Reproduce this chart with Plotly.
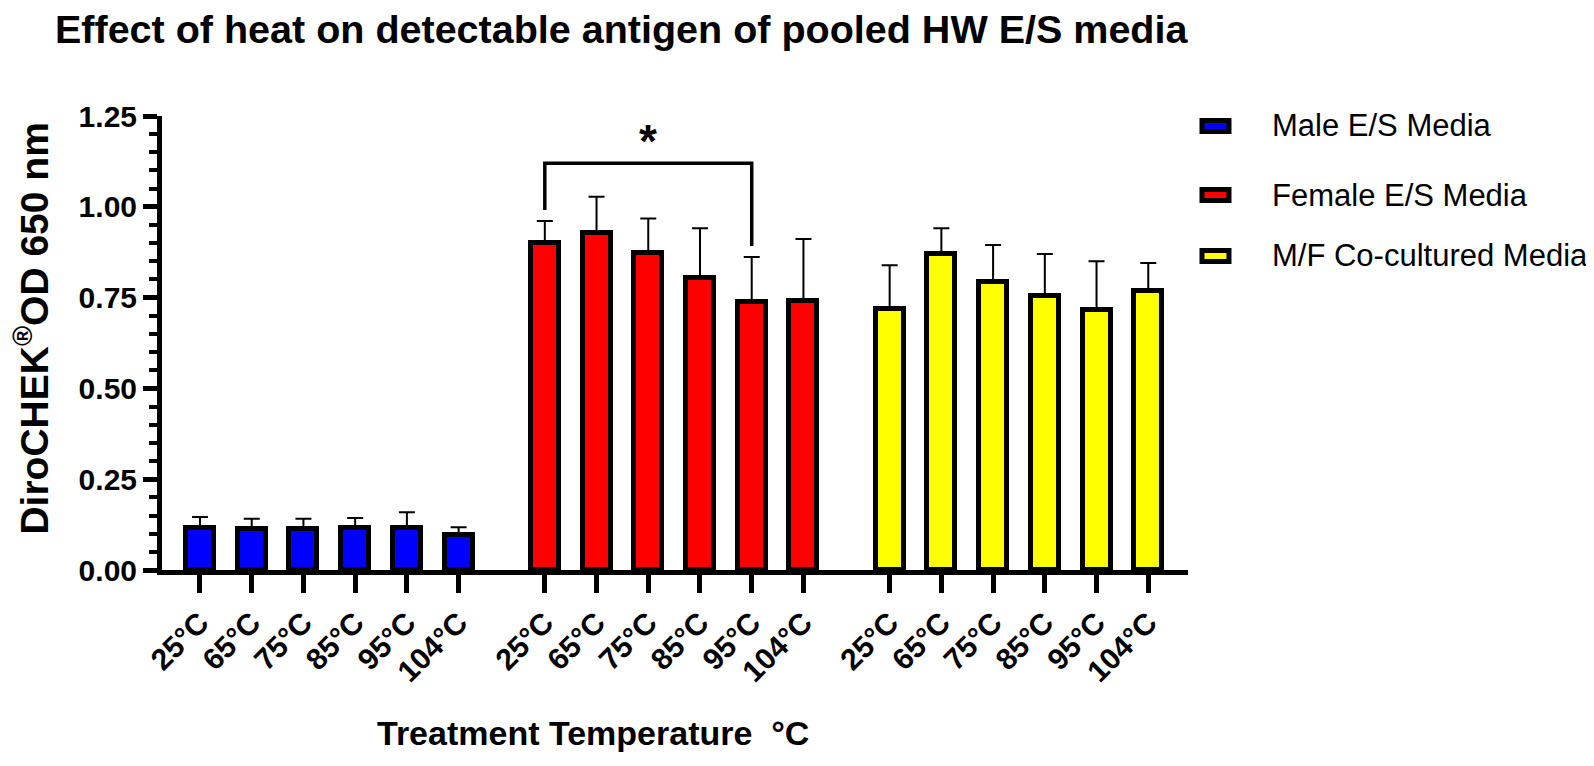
import plotly.graph_objects as go

# ---------------- data ----------------
temps = ["25°C", "65°C", "75°C", "85°C", "95°C", "104°C"]
series_names = ["Male E/S Media", "Female E/S Media", "M/F Co-cultured Media"]

male_mean = [0.117, 0.112, 0.112, 0.117, 0.117, 0.096]
male_sd = [0.029, 0.029, 0.029, 0.026, 0.042, 0.022]

female_mean = [0.900, 0.927, 0.874, 0.805, 0.737, 0.741]
female_sd = [0.061, 0.101, 0.094, 0.136, 0.125, 0.170]

cocult_mean = [0.719, 0.869, 0.793, 0.754, 0.715, 0.768]
cocult_sd = [0.120, 0.072, 0.102, 0.116, 0.135, 0.077]

colors = ["#0000FF", "#FF0000", "#FFFF00"]
y_ticks = [0.0, 0.25, 0.5, 0.75, 1.0, 1.25]

# significance comparison (female 25°C vs 95°C)
sig_pair = (0, 4)
sig_label = "*"

# ---------------- layout helpers ----------------
W, H = 1594, 766
L_PX, R_PX, T_PX, B_PX = 153.5, 1180, 108, 562
FONT = "Liberation Sans, Arial, Helvetica, sans-serif"

def px_x(px):
    return (px - L_PX) / (R_PX - L_PX)

def px_y(py):
    return (B_PX - py) / (B_PX - T_PX)

stride = len(temps) + 2 / 3
means = [male_mean, female_mean, cocult_mean]
sds = [male_sd, female_sd, cocult_sd]

fig = go.Figure()
all_x, all_text = [], []
for g, (name, m, s, c) in enumerate(zip(series_names, means, sds, colors)):
    xs = [g * stride + i for i in range(len(temps))]
    all_x += xs
    all_text += temps
    fig.add_trace(go.Bar(
        x=xs, y=m, name=name, width=0.54,
        marker=dict(color=c, line=dict(color="black", width=5)),
        error_y=dict(type="data", symmetric=False, array=s,
                     arrayminus=[0] * len(s), color="black",
                     thickness=2, width=8),
        showlegend=False,
    ))

# ---------------- significance bracket ----------------
xa = 1 * stride + sig_pair[0]
xb = 1 * stride + sig_pair[1]
ya = female_mean[sig_pair[0]] + female_sd[sig_pair[0]] + 0.03
yb = female_mean[sig_pair[1]] + female_sd[sig_pair[1]] + 0.03
ytop = 1.12
fig.add_shape(type="path",
              path=f"M {xa},{ya} L {xa},{ytop} L {xb},{ytop} L {xb},{yb}",
              xref="x", yref="y", line=dict(color="black", width=3.5))
fig.add_annotation(x=(xa + xb) / 2, y=ytop + 0.06, xref="x", yref="y",
                   text=f"<b>{sig_label}</b>", showarrow=False,
                   font=dict(family=FONT, size=46, color="black"),
                   xanchor="center", yanchor="middle")

# ---------------- custom legend ----------------
leg_rows = [118, 187, 248]
for name, c, py in zip(series_names, colors, leg_rows):
    fig.add_shape(type="rect", xref="paper", yref="paper",
                  x0=px_x(1194), x1=px_x(1221), y0=px_y(py + 5.5), y1=px_y(py - 5.5),
                  fillcolor=c, line=dict(color="black", width=5))
    fig.add_annotation(x=px_x(1262), y=px_y(py), xref="paper", yref="paper",
                       text=name, showarrow=False, xanchor="left", yanchor="middle",
                       font=dict(family=FONT, size=31, color="black"))

# ---------------- axis titles ----------------
fig.add_annotation(x=px_x(22), y=px_y(321), xref="paper", yref="paper",
                   text="<b>DiroCHEK<sup>®</sup>OD 650 nm</b>", textangle=-90,
                   showarrow=False, xanchor="center", yanchor="middle",
                   font=dict(family=FONT, size=39, color="black"))
fig.add_annotation(x=px_x(585), y=px_y(725), xref="paper", yref="paper",
                   text="<b>Treatment Temperature  °C</b>",
                   showarrow=False, xanchor="center", yanchor="middle",
                   font=dict(family=FONT, size=34, color="black"))

fig.update_layout(
    width=W, height=H, autosize=False,
    paper_bgcolor="white", plot_bgcolor="white",
    margin=dict(l=L_PX, r=W - R_PX, t=T_PX, b=H - B_PX, pad=0),
    title=dict(text="<b>Effect of heat on detectable antigen of pooled HW E/S media</b>",
               x=47 / W, xref="container", xanchor="left",
               y=1 - 21 / H, yref="container", yanchor="middle",
               font=dict(family=FONT, size=39.5, color="black")),
    bargap=0, barmode="overlay",
    font=dict(family=FONT, color="black"),
)

x_left = (L_PX - 191.5) / 51.75
x_right = (R_PX - 191.5) / 51.75
fig.update_xaxes(
    range=[x_left, x_right], tickmode="array", tickvals=all_x, ticktext=all_text,
    tickangle=-45, ticks="outside", ticklen=18, tickwidth=5, tickcolor="black",
    showline=True, linewidth=5, linecolor="black", showgrid=False, zeroline=False,
    tickfont=dict(family=FONT, size=30, color="black", weight="bold"),
)
fig.update_yaxes(
    range=[0, 1.25], tickmode="array", tickvals=y_ticks,
    ticktext=[f"{v:.2f}" for v in y_ticks],
    ticks="outside", ticklen=14, tickwidth=5, tickcolor="black",
    minor=dict(dtick=0.05, ticks="outside", ticklen=8, tickwidth=4,
               tickcolor="black", showgrid=False),
    showline=True, linewidth=5, linecolor="black", showgrid=False, zeroline=False,
    tickfont=dict(family=FONT, size=30, color="black", weight="bold"),
)

fig.write_html("out.html")
